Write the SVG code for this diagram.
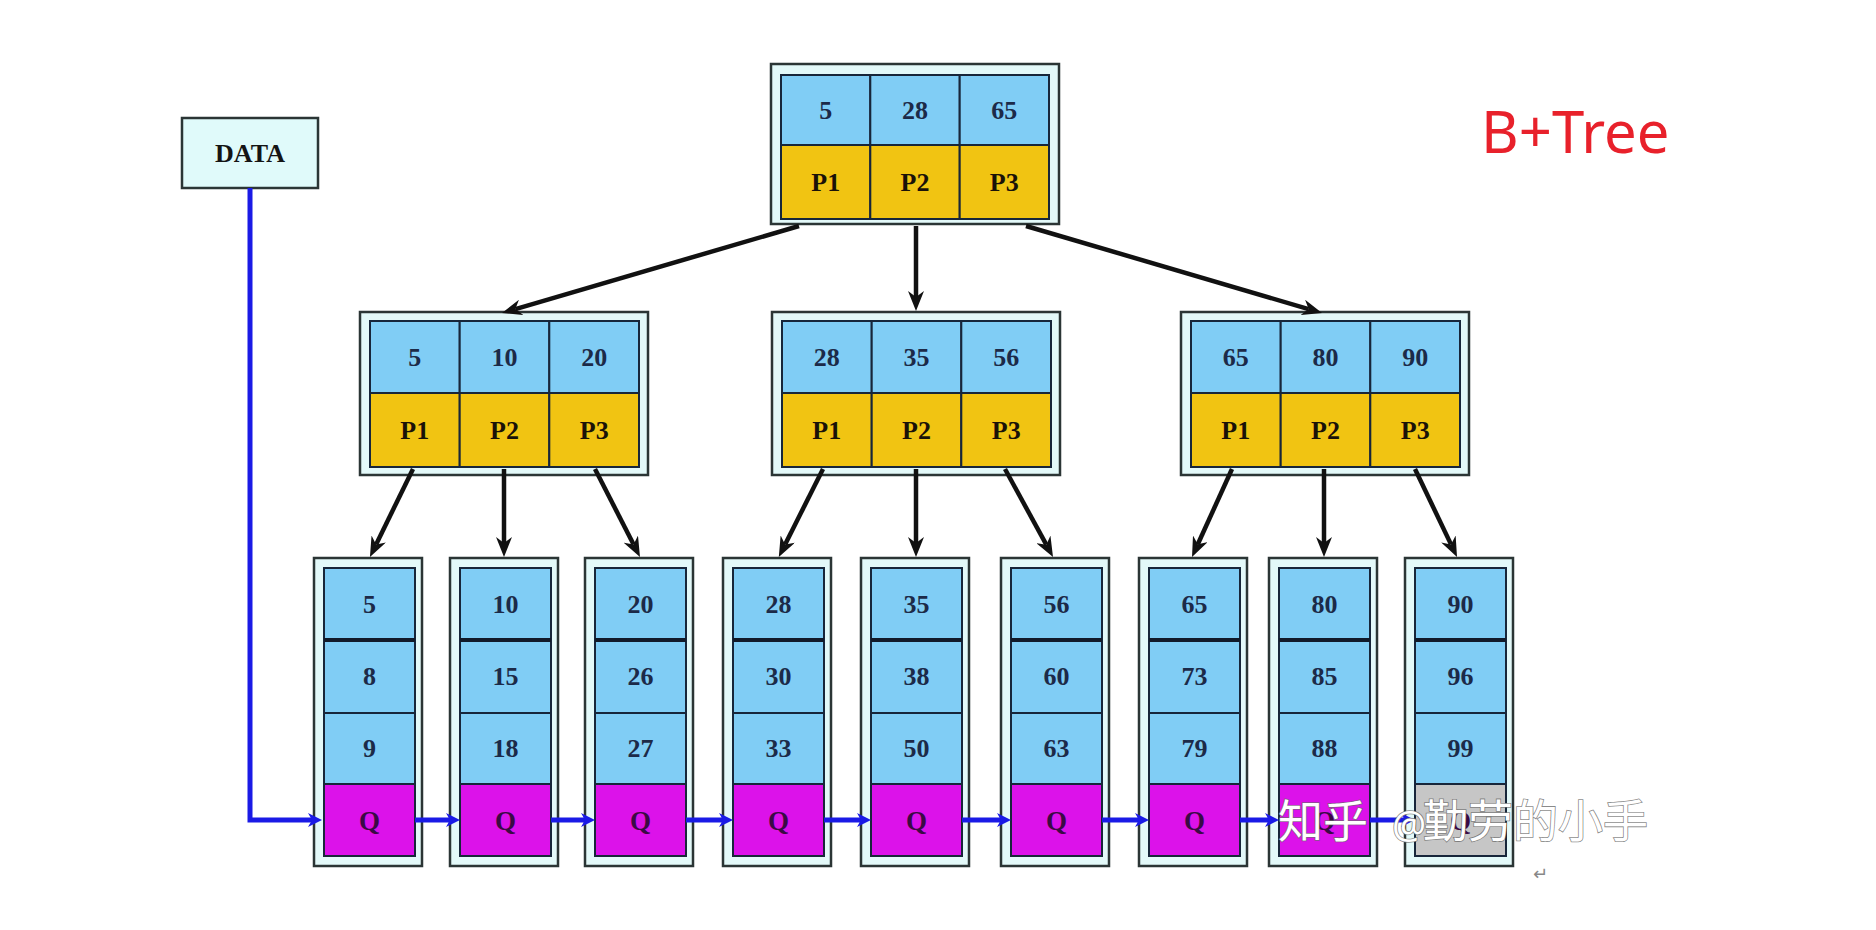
<svg xmlns="http://www.w3.org/2000/svg" width="1876" height="930" viewBox="0 0 1876 930">
<style>
.frame{fill:#e3f9f9;stroke:#2b3535;stroke-width:2.5}
.k{fill:#80cdf5;stroke:#17263a;stroke-width:2}
.p{fill:#f1c412;stroke:#17263a;stroke-width:2}
.q{fill:#dc12ea;stroke:#17263a;stroke-width:2}
.g{fill:#c6c6c6;stroke:#17263a;stroke-width:2}
.thick{stroke:#111a2a;stroke-width:4}
.t{font-family:"Liberation Serif","Times New Roman",serif;font-weight:bold;font-size:26px;text-anchor:middle;fill:#1c2a48}
.tp{fill:#1a1208}
.tq{fill:#3a0a44;font-size:27px}
.blk{stroke:#111;stroke-width:4.5;fill:none;marker-end:url(#ab)}
.blu{stroke:#1a1ae6;stroke-width:5;fill:none;marker-end:url(#au)}
.wm{font-family:"Noto Sans CJK SC","Noto Sans",sans-serif;font-size:45px;fill:#ffffff;stroke:#6a6a6a;stroke-width:1.6;stroke-opacity:0.8;paint-order:stroke}
</style>
<defs>
<marker id="ab" viewBox="0 0 20 16" refX="6" refY="8" markerWidth="20" markerHeight="16" markerUnits="userSpaceOnUse" orient="auto"><path d="M0,0 L20,8 L0,16 L6,8 z" fill="#111"/></marker>
<marker id="au" viewBox="0 0 14 14" refX="4" refY="7" markerWidth="14" markerHeight="14" markerUnits="userSpaceOnUse" orient="auto"><path d="M0,0 L14,7 L0,14 L4,7 z" fill="#1a1ae6"/></marker>
</defs>
<rect width="1876" height="930" fill="#ffffff"/>

<g id="title"><text x="1481" y="153" font-family="'Noto Sans','Open Sans',sans-serif" font-size="58" fill="#e8212b">B+Tree</text></g>

<g id="data">
<rect x="182" y="118" width="136" height="70" fill="#e0fafa" stroke="#2b3535" stroke-width="2.5"/>
<text class="t" x="250" y="162" style="fill:#141414">DATA</text>
</g>

<g id="root">
<rect class="frame" x="771" y="64" width="288" height="160"/>
<rect class="k" x="781" y="75" width="89.3" height="70"/><rect class="k" x="870.3" y="75" width="89.4" height="70"/><rect class="k" x="959.7" y="75" width="89.3" height="70"/>
<rect class="p" x="781" y="145" width="89.3" height="74"/><rect class="p" x="870.3" y="145" width="89.4" height="74"/><rect class="p" x="959.7" y="145" width="89.3" height="74"/>
<text class="t" x="825.7" y="119">5</text><text class="t" x="915" y="119">28</text><text class="t" x="1004.3" y="119">65</text>
<text class="t tp" x="825.7" y="191">P1</text><text class="t tp" x="915" y="191">P2</text><text class="t tp" x="1004.3" y="191">P3</text>
</g>

<g id="mid-left">
<rect class="frame" x="360" y="312" width="288" height="163"/>
<rect class="k" x="370" y="321" width="89.7" height="72"/><rect class="k" x="459.7" y="321" width="89.6" height="72"/><rect class="k" x="549.3" y="321" width="89.7" height="72"/>
<rect class="p" x="370" y="393" width="89.7" height="74"/><rect class="p" x="459.7" y="393" width="89.6" height="74"/><rect class="p" x="549.3" y="393" width="89.7" height="74"/>
<text class="t" x="414.8" y="366">5</text><text class="t" x="504.5" y="366">10</text><text class="t" x="594.2" y="366">20</text>
<text class="t tp" x="414.8" y="439">P1</text><text class="t tp" x="504.5" y="439">P2</text><text class="t tp" x="594.2" y="439">P3</text>
</g>

<g id="mid-center">
<rect class="frame" x="772" y="312" width="288" height="163"/>
<rect class="k" x="782" y="321" width="89.7" height="72"/><rect class="k" x="871.7" y="321" width="89.6" height="72"/><rect class="k" x="961.3" y="321" width="89.7" height="72"/>
<rect class="p" x="782" y="393" width="89.7" height="74"/><rect class="p" x="871.7" y="393" width="89.6" height="74"/><rect class="p" x="961.3" y="393" width="89.7" height="74"/>
<text class="t" x="826.8" y="366">28</text><text class="t" x="916.5" y="366">35</text><text class="t" x="1006.2" y="366">56</text>
<text class="t tp" x="826.8" y="439">P1</text><text class="t tp" x="916.5" y="439">P2</text><text class="t tp" x="1006.2" y="439">P3</text>
</g>

<g id="mid-right">
<rect class="frame" x="1181" y="312" width="288" height="163"/>
<rect class="k" x="1191" y="321" width="89.7" height="72"/><rect class="k" x="1280.7" y="321" width="89.6" height="72"/><rect class="k" x="1370.3" y="321" width="89.7" height="72"/>
<rect class="p" x="1191" y="393" width="89.7" height="74"/><rect class="p" x="1280.7" y="393" width="89.6" height="74"/><rect class="p" x="1370.3" y="393" width="89.7" height="74"/>
<text class="t" x="1235.8" y="366">65</text><text class="t" x="1325.5" y="366">80</text><text class="t" x="1415.2" y="366">90</text>
<text class="t tp" x="1235.8" y="439">P1</text><text class="t tp" x="1325.5" y="439">P2</text><text class="t tp" x="1415.2" y="439">P3</text>
</g>

<g id="leaf1" transform="translate(314,0)">
<rect class="frame" x="0" y="558" width="108" height="308"/>
<rect class="k" x="10" y="568" width="91" height="72"/><rect class="k" x="10" y="640" width="91" height="73"/><rect class="k" x="10" y="713" width="91" height="71"/><rect class="q" x="10" y="784" width="91" height="72"/>
<line class="thick" x1="10" y1="640" x2="101" y2="640"/>
<text class="t" x="55.5" y="613">5</text><text class="t" x="55.5" y="685">8</text><text class="t" x="55.5" y="757">9</text><text class="t tq" x="55.5" y="830">Q</text>
</g>
<g id="leaf2" transform="translate(450,0)">
<rect class="frame" x="0" y="558" width="108" height="308"/>
<rect class="k" x="10" y="568" width="91" height="72"/><rect class="k" x="10" y="640" width="91" height="73"/><rect class="k" x="10" y="713" width="91" height="71"/><rect class="q" x="10" y="784" width="91" height="72"/>
<line class="thick" x1="10" y1="640" x2="101" y2="640"/>
<text class="t" x="55.5" y="613">10</text><text class="t" x="55.5" y="685">15</text><text class="t" x="55.5" y="757">18</text><text class="t tq" x="55.5" y="830">Q</text>
</g>
<g id="leaf3" transform="translate(585,0)">
<rect class="frame" x="0" y="558" width="108" height="308"/>
<rect class="k" x="10" y="568" width="91" height="72"/><rect class="k" x="10" y="640" width="91" height="73"/><rect class="k" x="10" y="713" width="91" height="71"/><rect class="q" x="10" y="784" width="91" height="72"/>
<line class="thick" x1="10" y1="640" x2="101" y2="640"/>
<text class="t" x="55.5" y="613">20</text><text class="t" x="55.5" y="685">26</text><text class="t" x="55.5" y="757">27</text><text class="t tq" x="55.5" y="830">Q</text>
</g>
<g id="leaf4" transform="translate(723,0)">
<rect class="frame" x="0" y="558" width="108" height="308"/>
<rect class="k" x="10" y="568" width="91" height="72"/><rect class="k" x="10" y="640" width="91" height="73"/><rect class="k" x="10" y="713" width="91" height="71"/><rect class="q" x="10" y="784" width="91" height="72"/>
<line class="thick" x1="10" y1="640" x2="101" y2="640"/>
<text class="t" x="55.5" y="613">28</text><text class="t" x="55.5" y="685">30</text><text class="t" x="55.5" y="757">33</text><text class="t tq" x="55.5" y="830">Q</text>
</g>
<g id="leaf5" transform="translate(861,0)">
<rect class="frame" x="0" y="558" width="108" height="308"/>
<rect class="k" x="10" y="568" width="91" height="72"/><rect class="k" x="10" y="640" width="91" height="73"/><rect class="k" x="10" y="713" width="91" height="71"/><rect class="q" x="10" y="784" width="91" height="72"/>
<line class="thick" x1="10" y1="640" x2="101" y2="640"/>
<text class="t" x="55.5" y="613">35</text><text class="t" x="55.5" y="685">38</text><text class="t" x="55.5" y="757">50</text><text class="t tq" x="55.5" y="830">Q</text>
</g>
<g id="leaf6" transform="translate(1001,0)">
<rect class="frame" x="0" y="558" width="108" height="308"/>
<rect class="k" x="10" y="568" width="91" height="72"/><rect class="k" x="10" y="640" width="91" height="73"/><rect class="k" x="10" y="713" width="91" height="71"/><rect class="q" x="10" y="784" width="91" height="72"/>
<line class="thick" x1="10" y1="640" x2="101" y2="640"/>
<text class="t" x="55.5" y="613">56</text><text class="t" x="55.5" y="685">60</text><text class="t" x="55.5" y="757">63</text><text class="t tq" x="55.5" y="830">Q</text>
</g>
<g id="leaf7" transform="translate(1139,0)">
<rect class="frame" x="0" y="558" width="108" height="308"/>
<rect class="k" x="10" y="568" width="91" height="72"/><rect class="k" x="10" y="640" width="91" height="73"/><rect class="k" x="10" y="713" width="91" height="71"/><rect class="q" x="10" y="784" width="91" height="72"/>
<line class="thick" x1="10" y1="640" x2="101" y2="640"/>
<text class="t" x="55.5" y="613">65</text><text class="t" x="55.5" y="685">73</text><text class="t" x="55.5" y="757">79</text><text class="t tq" x="55.5" y="830">Q</text>
</g>
<g id="leaf8" transform="translate(1269,0)">
<rect class="frame" x="0" y="558" width="108" height="308"/>
<rect class="k" x="10" y="568" width="91" height="72"/><rect class="k" x="10" y="640" width="91" height="73"/><rect class="k" x="10" y="713" width="91" height="71"/><rect class="q" x="10" y="784" width="91" height="72"/>
<line class="thick" x1="10" y1="640" x2="101" y2="640"/>
<text class="t" x="55.5" y="613">80</text><text class="t" x="55.5" y="685">85</text><text class="t" x="55.5" y="757">88</text><text class="t tq" x="55.5" y="830">Q</text>
</g>
<g id="leaf9" transform="translate(1405,0)">
<rect class="frame" x="0" y="558" width="108" height="308"/>
<rect class="k" x="10" y="568" width="91" height="72"/><rect class="k" x="10" y="640" width="91" height="73"/><rect class="k" x="10" y="713" width="91" height="71"/><rect class="g" x="10" y="784" width="91" height="72"/>
<line class="thick" x1="10" y1="640" x2="101" y2="640"/>
<text class="t" x="55.5" y="613">90</text><text class="t" x="55.5" y="685">96</text><text class="t" x="55.5" y="757">99</text><text class="t tq" x="55.5" y="830">Q</text>
</g>

<g id="connectors">
<line class="blk" x1="799" y1="226" x2="515.4" y2="309.1"/>
<line class="blk" x1="916" y1="226" x2="916" y2="297"/>
<line class="blk" x1="1026" y1="226" x2="1308.6" y2="309.1"/>
<line class="blk" x1="413" y1="469" x2="376.1" y2="544.4"/>
<line class="blk" x1="504" y1="469" x2="504" y2="543"/>
<line class="blk" x1="595" y1="469" x2="633.6" y2="544.5"/>
<line class="blk" x1="823" y1="469" x2="785.1" y2="544.4"/>
<line class="blk" x1="916" y1="469" x2="916" y2="543"/>
<line class="blk" x1="1005" y1="469" x2="1046.3" y2="544.7"/>
<line class="blk" x1="1232" y1="469" x2="1197.8" y2="544.3"/>
<line class="blk" x1="1324" y1="469" x2="1324" y2="543"/>
<line class="blk" x1="1415" y1="469" x2="1451" y2="544.4"/>
<path class="blu" d="M250,188 V820 H312"/>
<line class="blu" x1="415" y1="820" x2="450" y2="820"/>
<line class="blu" x1="551" y1="820" x2="585" y2="820"/>
<line class="blu" x1="686" y1="820" x2="723" y2="820"/>
<line class="blu" x1="824" y1="820" x2="861" y2="820"/>
<line class="blu" x1="962" y1="820" x2="1001" y2="820"/>
<line class="blu" x1="1102" y1="820" x2="1139" y2="820"/>
<line class="blu" x1="1240" y1="820" x2="1269" y2="820"/>
<line class="blu" x1="1370" y1="820" x2="1405" y2="820"/>
</g>

<g id="watermark">
<text class="wm" x="1278" y="838">知乎</text>
<text class="wm" x="1392" y="838" style="font-family:'Noto Sans',sans-serif;font-size:38px">@</text>
<text class="wm" x="1423" y="838">勤劳的小手</text>
</g>
<text x="1533" y="880" font-family="'DejaVu Sans',sans-serif" font-size="18" fill="#888888">↵</text>
</svg>
